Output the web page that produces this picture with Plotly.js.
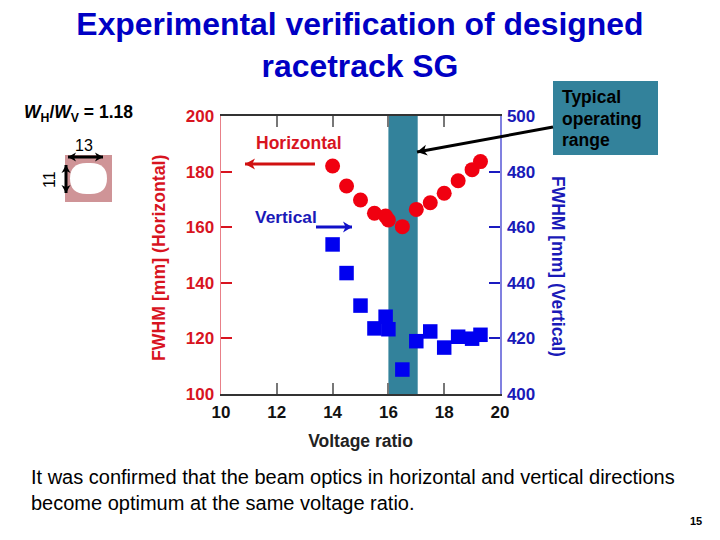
<!DOCTYPE html>
<html><head><meta charset="utf-8">
<script src="https://cdn.plot.ly/plotly-3.0.1.min.js"></script>
<style>html,body{margin:0;padding:0;background:#fff}</style>
</head><body><div id="c" style="width:720px;height:540px"></div>
<script>
const horizX=[14,14.5,15,15.5,15.9,16,16.5,17,17.5,18,18.5,19,19.3];
const horizY=[182,174.8,169.8,165,164,162.6,160.2,166.4,168.8,172.2,176.7,180.7,183.6];
const vertX=[14,14.5,15,15.5,15.9,16,16.5,17,17.5,18,18.5,19,19.3];
const vertY=[453.8,443.5,431.8,423.6,427.8,423.3,408.8,419,422.5,416.7,420.6,419.9,421.3];
const xTicks=[10,12,14,16,18,20];
const hTicks=[100,120,140,160,180,200];
const vTicks=[400,420,440,460,480,500];
const bandRange=[16,17.05];

const L=221,T=116,W=279,H=278;
const px=x=>(x-L)/W, py=y=>1-(y-T)/H;
const F='"Liberation Sans",Arial,sans-serif';
const RED='#d8141f',BLUE='#1a1ac0',TEAL='#33829b',TITLE='#0000c4';

function txt(x,y,text,size,color,o){
  return Object.assign({xref:'paper',yref:'paper',x:px(x),y:py(y),text,showarrow:false,
    font:{family:F,size,color},xanchor:'center',yanchor:'middle'},o||{});
}
function pathShape(d,fill){
  return {type:'path',xref:'paper',yref:'paper',path:d,fillcolor:fill,line:{width:0}};
}
function P(x,y){return px(x)+','+py(y);}
function head(tx,ty,fx,fy,color,len,hw){
  const d=Math.hypot(fx-tx,fy-ty),ux=(fx-tx)/d,uy=(fy-ty)/d,nx=-uy,ny=ux;
  const a=[tx+ux*len+nx*hw,ty+uy*len+ny*hw],b=[tx+ux*len-nx*hw,ty+uy*len-ny*hw],n=[tx+ux*len*0.72,ty+uy*len*0.72];
  return pathShape('M'+P(tx,ty)+' L'+P(a[0],a[1])+' L'+P(n[0],n[1])+' L'+P(b[0],b[1])+' Z',color);
}
function arrow(tx,ty,fx,fy,color,w,len,hw,both){
  const out=[{type:'line',xref:'paper',yref:'paper',x0:px(tx),y0:py(ty),x1:px(fx),y1:py(fy),line:{color,width:w}},
    head(tx,ty,fx,fy,color,len,hw)];
  if(both)out.push(head(fx,fy,tx,ty,color,len,hw));
  return out;
}
const annotations=[
  txt(78.5,113,'<b><i>W</i><sub>H</sub>/<i>W</i><sub>V</sub> = 1.18</b>',17.5,'#000'),
  txt(84,145,'13',16,'#000'),
  txt(49,180,'11',16,'#000',{textangle:-90}),
  txt(560,97,'<b>Typical</b>',17.5,'#000',{xanchor:'left'}),
  txt(560,119,'<b>operating</b>',17.5,'#000',{xanchor:'left'}),
  txt(560,140,'<b>range</b>',17.5,'#000',{xanchor:'left'}),
  txt(299,143,'<b>Horizontal</b>',17.5,RED),
  txt(286,217,'<b>Vertical</b>',17.4,'#1a1ab8'),
  txt(159,258,'<b>FWHM [mm] (Horizontal)</b>',17.7,RED,{textangle:-90}),
  txt(558,266,'<b>FWHM [mm] (Vertical)</b>',17.5,'#1a1ab8',{textangle:90}),
  txt(29,477,'It was confirmed that the beam optics in horizontal and vertical directions',20,'#000',{xanchor:'left'}),
  txt(29,503,'become optimum at the same voltage ratio.',20,'#000',{xanchor:'left'}),
  txt(696,521,'<b>15</b>',11,'#000')
];
const r=15.5;
const aperture='M'+P(71+r,163)+' L'+P(106-r,163)+' Q'+P(107,163)+' '+P(107,178.5)+' Q'+P(107,194)+' '+P(106-r,194)
  +' L'+P(71+r,194)+' Q'+P(70,194)+' '+P(70,178.5)+' Q'+P(70,163)+' '+P(71+r,163)+' Z';
const shapes=[
  {type:'rect',xref:'x',yref:'paper',x0:bandRange[0],x1:bandRange[1],y0:0,y1:1,fillcolor:TEAL,line:{width:0},layer:'below'},
  {type:'rect',xref:'paper',yref:'paper',x0:px(553),x1:px(658),y0:py(81),y1:py(155),fillcolor:TEAL,line:{width:0}},
  {type:'rect',xref:'paper',yref:'paper',x0:px(65),x1:px(112),y0:py(155),y1:py(202),fillcolor:'#cf9497',line:{width:0}},
  pathShape(aperture,'#fff'),
  ...arrow(245,164,315,164,'#d01010',3,10,5.5),
  ...arrow(352,227,316,227,'#1010c8',3,9,5.5),
  ...arrow(417,152,553,127,'#000',3,10,5.5),
  ...arrow(68,157,103,157,'#000',3,8,4.5,true),
  ...arrow(66,165,66,193,'#000',3,8,4.5,true)
];
const axisFont=c=>({family:F,size:17,color:c,weight:700});
Plotly.newPlot('c',[
  {x:horizX,y:horizY,mode:'markers',type:'scatter',yaxis:'y',cliponaxis:false,
   marker:{symbol:'circle',size:15,color:'#f00010'},name:'Horizontal'},
  {x:vertX,y:vertY,mode:'markers',type:'scatter',yaxis:'y2',cliponaxis:false,
   marker:{symbol:'square',size:14.5,color:'#0000f0'},name:'Vertical'}
],{
  width:720,height:540,showlegend:false,paper_bgcolor:'#fff',plot_bgcolor:'rgba(0,0,0,0)',
  margin:{l:L,r:720-L-W,t:T,b:540-T-H,pad:0},
  title:{text:'<b>Experimental verification of designed<br>racetrack SG</b>',font:{family:F,size:31.9,color:TITLE},
    x:358.5/720,xanchor:'center',xref:'paper',y:0.935,yanchor:'top',pad:{t:0,b:0,l:0,r:0}},
  xaxis:{range:[10,20],tickvals:xTicks,ticks:'inside',ticklen:11,tickwidth:2,tickcolor:'#777',ticklabelstandoff:2,
    title:{text:'<b>Voltage ratio</b>',font:{family:F,size:17.5,color:'#222'},standoff:13},
    showgrid:false,zeroline:false,showline:true,linecolor:'#333',linewidth:2,mirror:'ticks',tickfont:axisFont('#111')},
  yaxis:{range:[100,200],tickvals:hTicks,ticks:'inside',ticklen:11,tickwidth:2,tickcolor:RED,ticklabelstandoff:2,
    showgrid:false,zeroline:false,showline:true,linecolor:'#e88088',linewidth:1.5,tickfont:axisFont(RED)},
  yaxis2:{range:[400,500],tickvals:vTicks,ticks:'inside',ticklen:11,tickwidth:2,tickcolor:BLUE,overlaying:'y',side:'right',ticklabelstandoff:2,
    showgrid:false,zeroline:false,showline:true,linecolor:'#8080e0',linewidth:1.5,tickfont:axisFont('#1a1ab8')},
  shapes,annotations,font:{family:F}
},{displayModeBar:false,staticPlot:true});
</script></body></html>
